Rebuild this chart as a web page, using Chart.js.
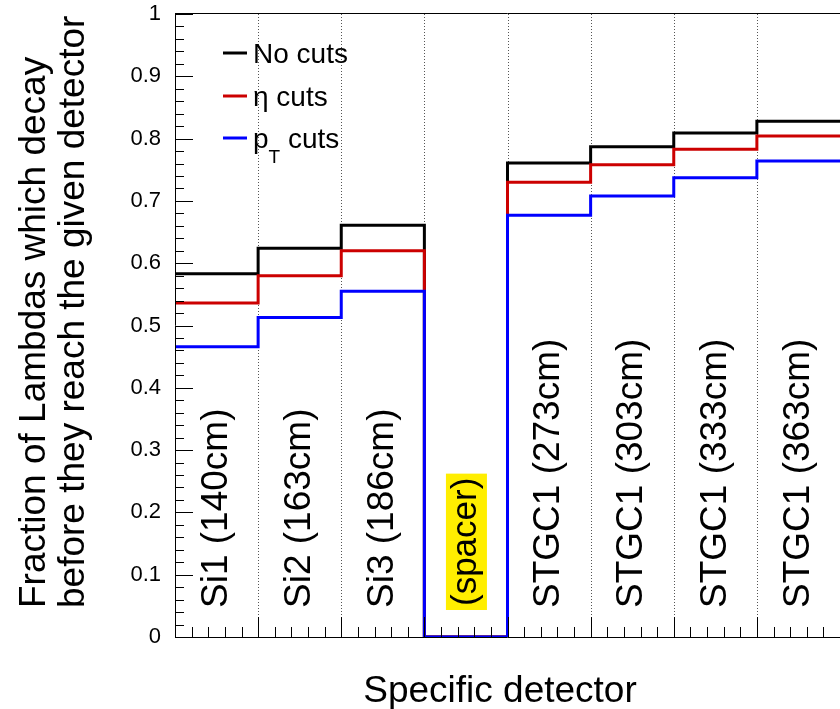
<!DOCTYPE html>
<html lang="en">
<head>
    <meta charset="UTF-8">
    <title>Lambda decay fraction per detector</title>
    <script src="https://cdn.jsdelivr.net/npm/chart.js"></script>
    <style>
        body { margin: 0; background: #fff; }
    </style>
</head>
<body>

<canvas id="decayChart" width="840" height="709"></canvas>

<script>
    // Detector bins (one bin per detector layer)
    var detectors = ['Si1 (140cm)', 'Si2 (163cm)', 'Si3 (186cm)', '(spacer)',
                     'STGC1 (273cm)', 'STGC1 (303cm)', 'STGC1 (333cm)', 'STGC1 (363cm)'];

    // Fraction of Lambdas decaying before reaching each detector
    var noCuts  = [0.583, 0.624, 0.661, 0, 0.761, 0.787, 0.809, 0.828];
    var etaCuts = [0.536, 0.580, 0.620, 0, 0.730, 0.758, 0.783, 0.804];
    var ptCuts  = [0.466, 0.513, 0.555, 0, 0.677, 0.708, 0.737, 0.764];

    var yTickValues = [0, 0.1, 0.2, 0.3, 0.4, 0.5, 0.6, 0.7, 0.8, 0.9, 1];
    var yTickLabels = ['0', '0.1', '0.2', '0.3', '0.4', '0.5', '0.6', '0.7', '0.8', '0.9', '1'];

    var FONT = '"Liberation Sans", Arial, sans-serif';

    // step outline: left edge of each bin, plus the right edge of the last one
    function histPoints(values) {
        var pts = values.map(function (v, i) { return {x: i, y: v}; });
        pts.push({x: values.length, y: values[values.length - 1]});
        return pts;
    }

    function histDataset(label, values, color, order) {
        return {
            label: label,
            data: histPoints(values),
            borderColor: color,
            backgroundColor: color,
            borderWidth: 3,
            stepped: 'before',
            pointRadius: 0,
            fill: false,
            borderJoinStyle: 'miter',
            borderCapStyle: 'butt',
            order: order
        };
    }

    // ROOT-like frame: dotted bin separators, inward ticks, rotated bin names, legend
    var rootFrame = {
        id: 'rootFrame',
        beforeDatasetsDraw: function (chart) {
            var ctx = chart.ctx, a = chart.chartArea, xs = chart.scales.x;
            ctx.save();
            ctx.strokeStyle = '#555';
            ctx.lineWidth = 1;
            ctx.setLineDash([1, 2]);
            for (var i = 1; i < detectors.length; i++) {
                var px = Math.round(xs.getPixelForValue(i)) + 0.5;
                ctx.beginPath();
                ctx.moveTo(px, a.top);
                ctx.lineTo(px, a.bottom);
                ctx.stroke();
            }
            ctx.restore();
        },
        afterDatasetsDraw: function (chart) {
            var ctx = chart.ctx, a = chart.chartArea;
            var xs = chart.scales.x, ys = chart.scales.y;
            var i, k, px, py;
            ctx.save();

            // frame lines
            ctx.strokeStyle = '#000';
            ctx.lineWidth = 1;
            ctx.beginPath();
            ctx.moveTo(a.left + 0.5, a.top);
            ctx.lineTo(a.left + 0.5, a.bottom);
            ctx.moveTo(a.left, a.bottom + 0.5);
            ctx.lineTo(a.right, a.bottom + 0.5);
            ctx.moveTo(a.left, a.top - 0.5);
            ctx.lineTo(a.right, a.top - 0.5);
            ctx.stroke();

            // y ticks: 5 subdivisions per 0.1
            ctx.beginPath();
            for (k = 0; k <= 50; k++) {
                py = Math.round(ys.getPixelForValue(k / 50)) + 0.5;
                ctx.moveTo(a.left, py);
                ctx.lineTo(a.left + (k % 5 === 0 ? 18 : 9), py);
            }
            // x ticks: 5 subdivisions per bin
            for (k = 0; k <= detectors.length * 5; k++) {
                px = Math.round(xs.getPixelForValue(k / 5)) + 0.5;
                ctx.moveTo(px, a.bottom);
                ctx.lineTo(px, a.bottom - (k % 5 === 0 ? 20 : 10));
            }
            ctx.stroke();

            // y tick labels
            ctx.fillStyle = '#000';
            ctx.font = '22px ' + FONT;
            ctx.textAlign = 'right';
            ctx.textBaseline = 'middle';
            yTickValues.forEach(function (v, j) {
                ctx.fillText(yTickLabels[j], a.left - 14, ys.getPixelForValue(v));
            });

            // bin names, written upwards inside each bin
            for (i = 0; i < detectors.length; i++) {
                px = xs.getPixelForValue(i + 0.5);
                ctx.save();
                if (detectors[i] === '(spacer)') {
                    ctx.translate(px, a.bottom - 31);
                    ctx.rotate(-Math.PI / 2);
                    ctx.font = '35px ' + FONT;
                    var w = ctx.measureText(detectors[i]).width;
                    ctx.fillStyle = '#ffee00';
                    ctx.fillRect(-4, -20, w + 8, 41);
                    ctx.fillStyle = '#000';
                } else {
                    ctx.translate(px, a.bottom - 29);
                    ctx.rotate(-Math.PI / 2);
                    ctx.font = '37px ' + FONT;
                }
                ctx.textAlign = 'left';
                ctx.textBaseline = 'middle';
                ctx.fillText(detectors[i], 0, 0);
                ctx.restore();
            }

            // axis titles
            ctx.font = '37px ' + FONT;
            ctx.textAlign = 'center';
            ctx.textBaseline = 'alphabetic';
            ctx.fillText('Specific detector', 500, 702);

            ctx.save();
            ctx.translate(0, 608);
            ctx.rotate(-Math.PI / 2);
            ctx.textAlign = 'left';
            ctx.fillText('Fraction of Lambdas which decay', 0, 45);
            ctx.fillText('before they reach the given detector', 0, 84);
            ctx.restore();

            // legend
            var entries = chart.data.datasets;
            var rows = [53, 96, 138];
            ctx.textAlign = 'left';
            ctx.textBaseline = 'alphabetic';
            entries.forEach(function (ds, j) {
                var ly = rows[j];
                ctx.strokeStyle = ds.borderColor;
                ctx.lineWidth = 3;
                ctx.beginPath();
                ctx.moveTo(223, ly);
                ctx.lineTo(247, ly);
                ctx.stroke();
                ctx.fillStyle = '#000';
                ctx.font = '28px ' + FONT;
                if (ds.label === 'pT cuts') {
                    ctx.fillText('p', 253, ly + 10);
                    var pw = ctx.measureText('p').width;
                    ctx.font = '19px ' + FONT;
                    ctx.fillText('T', 253 + pw, ly + 25);
                    var tw = ctx.measureText('T').width;
                    ctx.font = '28px ' + FONT;
                    ctx.fillText(' cuts', 253 + pw + tw, ly + 10);
                } else {
                    ctx.fillText(ds.label, 253, ly + 10);
                }
            });

            ctx.restore();
        }
    };

    var ctx = document.getElementById('decayChart').getContext('2d');
    var chart = new Chart(ctx, {
        type: 'line',
        data: {
            datasets: [
                histDataset('No cuts', noCuts, '#000000', 3),
                histDataset('\u03b7 cuts', etaCuts, '#cc0000', 2),
                histDataset('pT cuts', ptCuts, '#0000ff', 1)
            ]
        },
        options: {
            responsive: false,
            animation: false,
            layout: { padding: { left: 175, top: 14, right: 0, bottom: 72 } },
            scales: {
                x: { type: 'linear', min: 0, max: detectors.length, display: false },
                y: { type: 'linear', min: 0, max: 1, display: false }
            },
            plugins: {
                legend: { display: false },
                tooltip: { enabled: false }
            }
        },
        plugins: [rootFrame]
    });
</script>

</body>
</html>
